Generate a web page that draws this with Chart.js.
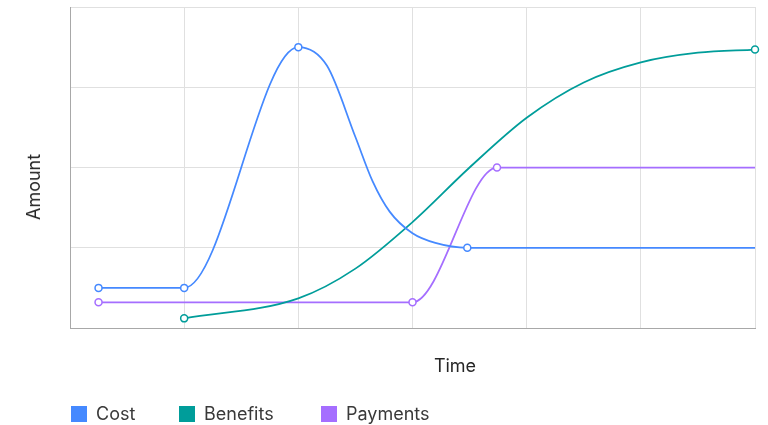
<!DOCTYPE html>
<html lang="en">
<head>
<meta charset="utf-8">
<title>Cost, benefits and payments over time</title>
<script src="https://cdn.jsdelivr.net/npm/chart.js"></script>
<style>
    body { margin: 0; background: #fff; }
    #wrap { position: relative; width: 768px; height: 425px; font-family: Inter, "Noto Sans", sans-serif; color: #262626; }
    #wrap canvas { position: absolute; left: 0; top: 0; }
    .axis-title { position: absolute; font-size: 18px; line-height: 18px; white-space: nowrap; }
    #xTitle { left: 455px; top: 366px; transform: translate(-50%, -50%); }
    #yTitle { left: 34px; top: 187px; transform: translate(-50%, -50%) rotate(-90deg); }
    #legend { position: absolute; left: 71px; top: 406px; display: flex; font-size: 18px; line-height: 16px; color: #393939; }
    #legend .item { display: flex; align-items: center; }
    #legend .item:nth-child(1) { width: 108px; }
    #legend .item:nth-child(2) { width: 142px; }
    #legend .box { width: 16px; height: 16px; margin-right: 9px; flex: none; }
</style>
</head>
<body>
<div id="wrap">
    <canvas id="chart" width="768" height="425"></canvas>
    <div class="axis-title" id="xTitle">Time</div>
    <div class="axis-title" id="yTitle">Amount</div>
    <div id="legend"></div>
</div>
<script>
"use strict";

// Series names and colours
const seriesNames = ["Cost", "Benefits", "Payments"];
const seriesColors = ["#4589ff", "#009d9a", "#a56eff"];

// Values (time on x, amount on y)
const costTime = [0.25, 1, 2, 2.25, 2.5, 2.65, 2.8, 3.0, 3.2, 3.48, 6];
const costAmount = [0.5, 0.5, 3.5, 3.27, 2.38, 1.83, 1.45, 1.18, 1.06, 1.0, 1.0];

const benefitsTime = [1, 2, 2.5, 3, 3.5, 4, 4.5, 5, 5.5, 6];
const benefitsAmount = [0.12, 0.37, 0.74, 1.32, 2.0, 2.62, 3.06, 3.31, 3.43, 3.47];

const paymentsTime = [0.25, 3, 3.74, 6];
const paymentsAmount = [0.32, 0.32, 2.0, 2.0];

// Axis range
const timeMax = 6;
const amountMax = 4;

// Make {x, y} points
function toPoints(times, amounts) {
    return times.map((t, i) => ({ x: t, y: amounts[i] }));
}

// Only some points get a marker
function markerRadius(shown) {
    return (ctx) => shown.includes(ctx.dataIndex) ? 3.5 : 0;
}

const series = [
    toPoints(costTime, costAmount),
    toPoints(benefitsTime, benefitsAmount),
    toPoints(paymentsTime, paymentsAmount)
];
const markers = [[0, 1, 2, 9], [0, 9], [0, 1, 2]];

const datasets = series.map((points, i) => ({
    label: seriesNames[i],
    data: points,
    borderColor: seriesColors[i],
    backgroundColor: seriesColors[i],
    borderWidth: 1.75,
    pointRadius: markerRadius(markers[i]),
    pointBackgroundColor: "#ffffff",
    pointBorderColor: seriesColors[i],
    pointBorderWidth: 1.5,
    cubicInterpolationMode: "monotone",
    clip: false
}));

const gridColor = "#e0e0e0";
const axisColor = "#a8a8a8";

new Chart(document.getElementById("chart"), {
    type: "line",
    data: { datasets: datasets },
    options: {
        responsive: false,
        animation: false,
        layout: { padding: { left: 70, right: 13, top: 7, bottom: 97 } },
        plugins: {
            legend: { display: false },
            tooltip: { enabled: false }
        },
        scales: {
            x: {
                type: "linear",
                min: 0,
                max: timeMax,
                ticks: { display: false, stepSize: 1 },
                grid: { color: gridColor, drawTicks: false },
                border: { color: axisColor }
            },
            y: {
                min: 0,
                max: amountMax,
                ticks: { display: false, stepSize: 1 },
                grid: { color: gridColor, drawTicks: false },
                border: { color: axisColor }
            }
        }
    }
});

// Legend below the chart
const legend = document.getElementById("legend");
seriesNames.forEach((name, i) => {
    const item = document.createElement("div");
    item.className = "item";
    const box = document.createElement("span");
    box.className = "box";
    box.style.background = seriesColors[i];
    const text = document.createElement("span");
    text.textContent = name;
    item.appendChild(box);
    item.appendChild(text);
    legend.appendChild(item);
});
</script>
</body>
</html>
